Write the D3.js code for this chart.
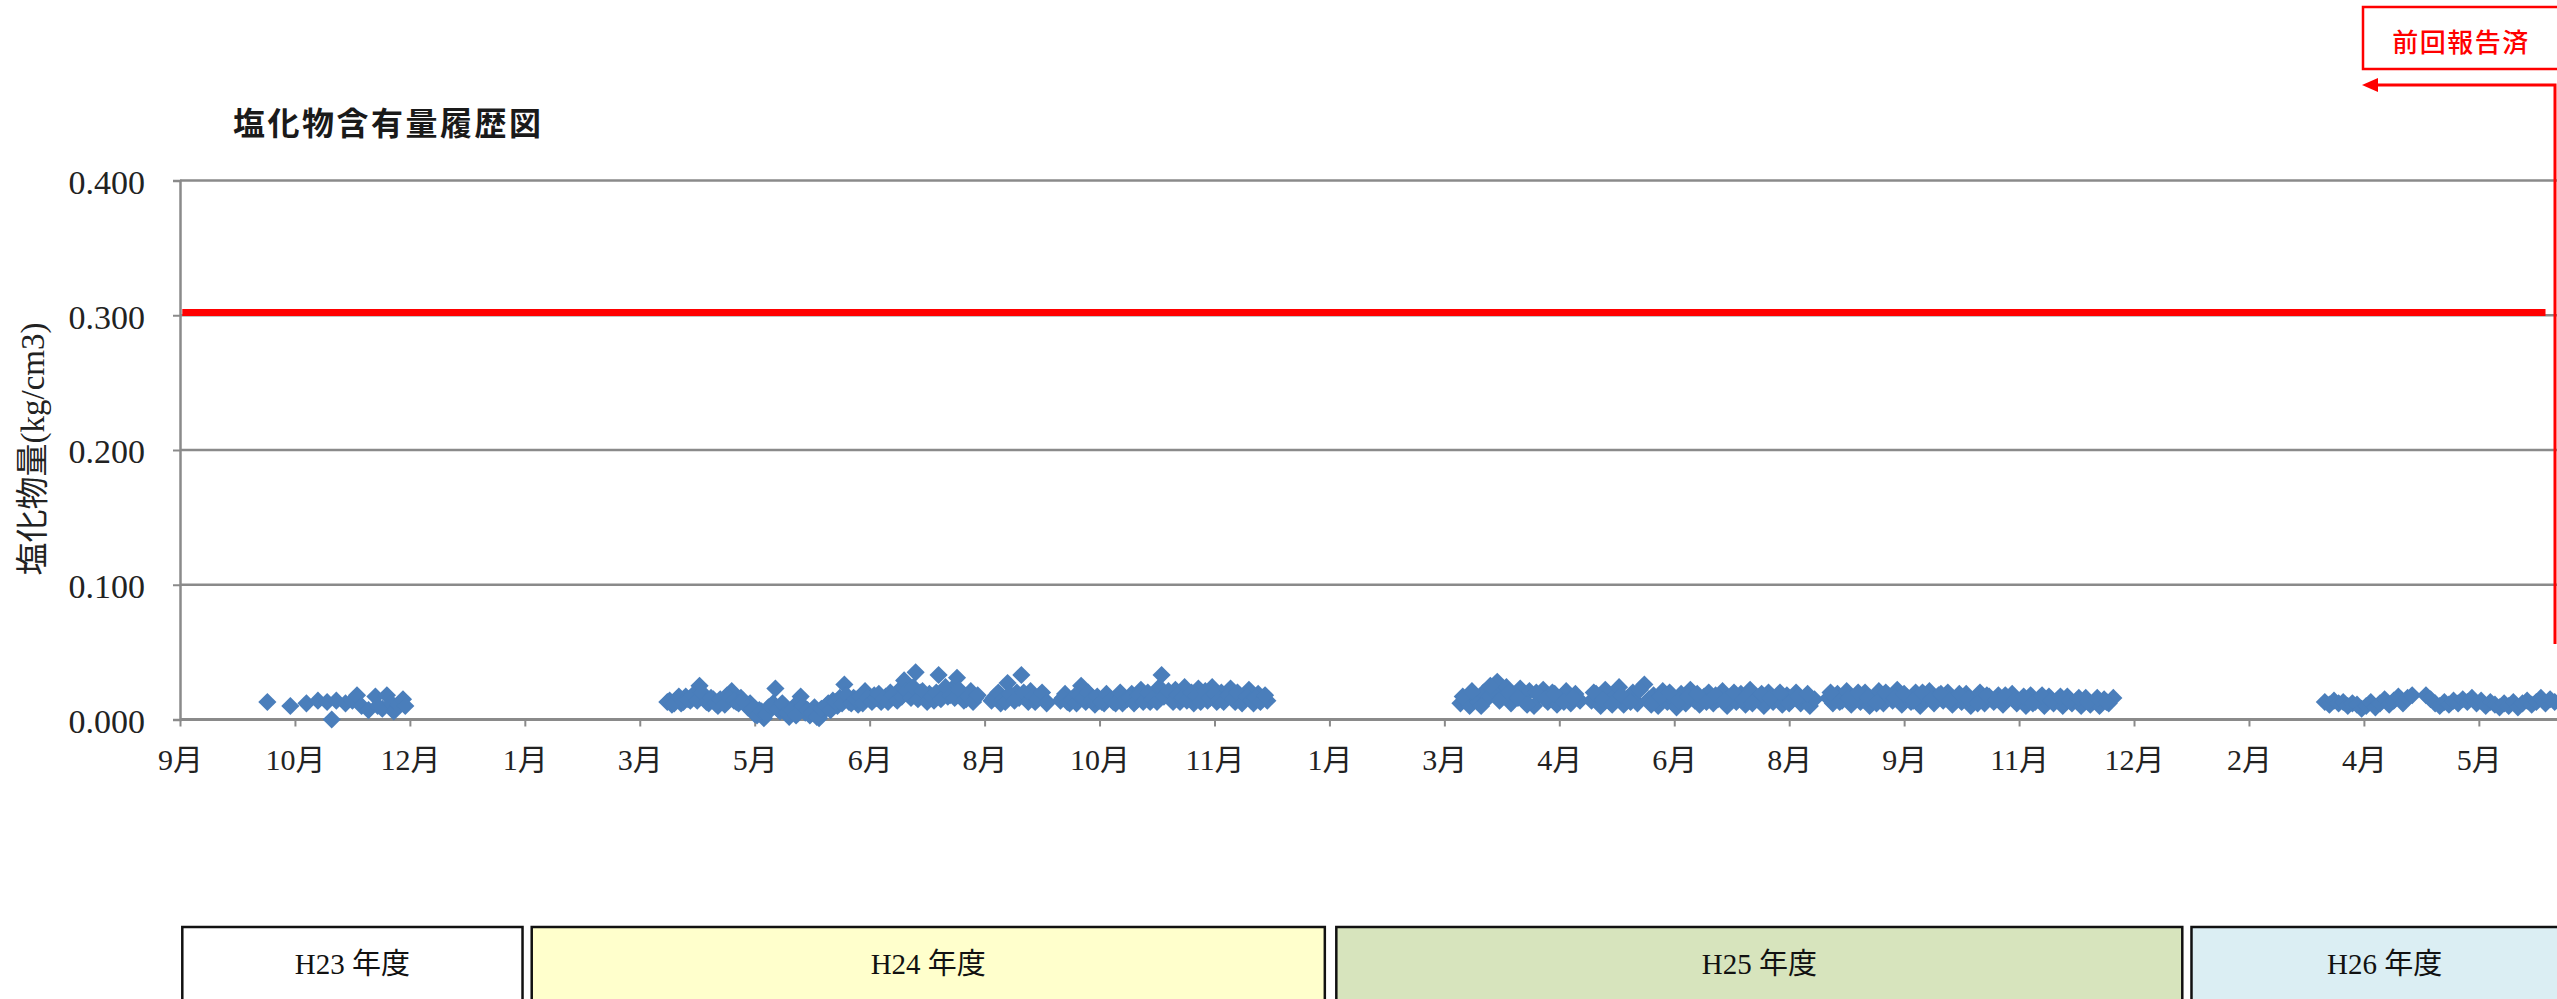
<!DOCTYPE html>
<html>
<head>
<meta charset="utf-8">
<script src="https://cdn.jsdelivr.net/npm/d3@7"></script>
<style>
  body { margin: 0; background: #fff; }
  svg { display: block; }
</style>
</head>
<body>
<svg id="chart" width="2557" height="999"></svg>
<script>
// chloride content readings (kg/cm3), one list per fiscal year
var h23 = [
  ["2011-10-09",0.013],["2011-10-19",0.010],["2011-10-26",0.012],["2011-10-31",0.014],["2011-11-04",0.013],
  ["2011-11-06",0.000],["2011-11-08",0.014],["2011-11-12",0.012],["2011-11-15",0.014],["2011-11-17",0.018],
  ["2011-11-19",0.010],["2011-11-22",0.007],["2011-11-25",0.017],["2011-11-26",0.010],["2011-11-28",0.008],
  ["2011-11-30",0.018],["2011-12-02",0.012],["2011-12-03",0.006],["2011-12-05",0.011],["2011-12-07",0.015],
  ["2011-12-08",0.010]
];
var h24 = [
  ["2012-03-31",0.013],["2012-04-02",0.011],["2012-04-04",0.015],["2012-04-06",0.012],["2012-04-08",0.017],
  ["2012-04-10",0.014],["2012-04-12",0.019],["2012-04-14",0.025],["2012-04-16",0.016],["2012-04-18",0.012],
  ["2012-04-20",0.015],["2012-04-22",0.010],["2012-04-24",0.013],["2012-04-26",0.018],["2012-04-28",0.021],
  ["2012-04-30",0.013],["2012-05-02",0.016],["2012-05-04",0.011],["2012-05-06",0.012],["2012-05-08",0.004],
  ["2012-05-10",0.007],["2012-05-12",0.001],["2012-05-14",0.009],["2012-05-16",0.012],["2012-05-17",0.023],
  ["2012-05-19",0.006],["2012-05-21",0.010],["2012-05-23",0.002],["2012-05-25",0.008],["2012-05-27",0.013],
  ["2012-05-28",0.017],["2012-05-30",0.005],["2012-06-01",0.003],["2012-06-03",0.009],["2012-06-05",0.001],
  ["2012-06-07",0.006],["2012-06-09",0.012],["2012-06-11",0.014],["2012-06-13",0.010],["2012-06-16",0.026],
  ["2012-06-18",0.013],["2012-06-20",0.016],["2012-06-22",0.011],["2012-06-25",0.021],["2012-06-27",0.015],
  ["2012-06-29",0.018],["2012-07-02",0.013],["2012-07-04",0.017],["2012-07-06",0.020],["2012-07-08",0.016],
  ["2012-07-10",0.022],["2012-07-12",0.029],["2012-07-14",0.018],["2012-07-17",0.035],["2012-07-19",0.020],
  ["2012-07-21",0.016],["2012-07-23",0.019],["2012-07-25",0.014],["2012-07-27",0.033],["2012-07-29",0.021],
  ["2012-07-31",0.017],["2012-08-02",0.023],["2012-08-04",0.031],["2012-08-06",0.019],["2012-08-08",0.015],
  ["2012-08-10",0.021],["2012-08-12",0.016],["2012-08-19",0.014],["2012-08-21",0.018],["2012-08-23",0.012],
  ["2012-08-26",0.027],["2012-08-28",0.017],["2012-08-30",0.020],["2012-09-01",0.033],["2012-09-03",0.016],
  ["2012-09-05",0.021],["2012-09-07",0.013],["2012-09-09",0.018],["2012-09-11",0.015],["2012-09-18",0.014],
  ["2012-09-20",0.019],["2012-09-22",0.012],["2012-09-24",0.017],["2012-09-27",0.025],["2012-09-29",0.013],
  ["2012-10-01",0.018],["2012-10-03",0.011],["2012-10-05",0.014],["2012-10-07",0.012],["2012-10-09",0.016],
  ["2012-10-11",0.013],["2012-10-13",0.017],["2012-10-15",0.012],["2012-10-17",0.015],["2012-10-19",0.019],
  ["2012-10-21",0.014],["2012-10-23",0.022],["2012-10-25",0.016],["2012-10-27",0.013],["2012-10-29",0.018],
  ["2012-10-31",0.024],["2012-11-01",0.033],["2012-11-03",0.019],["2012-11-05",0.015],["2012-11-07",0.022],
  ["2012-11-09",0.013],["2012-11-11",0.024],["2012-11-13",0.016],["2012-11-15",0.012],["2012-11-17",0.023],
  ["2012-11-19",0.017],["2012-11-21",0.014],["2012-11-23",0.024],["2012-11-25",0.013],["2012-11-27",0.020],
  ["2012-11-29",0.016],["2012-12-01",0.023],["2012-12-03",0.013],["2012-12-05",0.018],["2012-12-07",0.015],
  ["2012-12-09",0.022],["2012-12-11",0.012],["2012-12-13",0.019],["2012-12-15",0.016],["2012-12-17",0.014]
];
// second set of readings taken in between
var h24b = [
  ["2012-04-01",0.014],["2012-04-03",0.012],["2012-04-05",0.017],["2012-04-07",0.013],["2012-04-09",0.015],
  ["2012-04-11",0.018],["2012-04-13",0.014],["2012-04-15",0.020],["2012-04-17",0.013],["2012-04-19",0.016],
  ["2012-04-21",0.012],["2012-04-23",0.015],["2012-04-25",0.011],["2012-04-27",0.016],["2012-04-29",0.014],
  ["2012-05-01",0.012],["2012-05-03",0.014],["2012-05-05",0.009],["2012-05-07",0.008],["2012-05-09",0.003],
  ["2012-05-11",0.006],["2012-05-13",0.004],["2012-05-15",0.010],["2012-05-18",0.008],["2012-05-20",0.012],
  ["2012-05-22",0.005],["2012-05-24",0.007],["2012-05-26",0.003],["2012-05-29",0.010],["2012-05-31",0.007],
  ["2012-06-02",0.005],["2012-06-04",0.002],["2012-06-06",0.008],["2012-06-08",0.010],["2012-06-10",0.007],
  ["2012-06-12",0.013],["2012-06-14",0.016],["2012-06-15",0.012],["2012-06-17",0.018],["2012-06-19",0.012],
  ["2012-06-21",0.015],["2012-06-23",0.017],["2012-06-24",0.012],["2012-06-26",0.016],["2012-06-28",0.013],
  ["2012-06-30",0.016],["2012-07-01",0.019],["2012-07-03",0.015],["2012-07-05",0.013],["2012-07-07",0.018],
  ["2012-07-09",0.014],["2012-07-11",0.017],["2012-07-13",0.021],["2012-07-15",0.016],["2012-07-16",0.024],
  ["2012-07-18",0.015],["2012-07-20",0.021],["2012-07-22",0.013],["2012-07-24",0.017],["2012-07-26",0.020],
  ["2012-07-28",0.015],["2012-07-30",0.024],["2012-08-01",0.018],["2012-08-03",0.016],["2012-08-05",0.022],
  ["2012-08-07",0.014],["2012-08-09",0.017],["2012-08-11",0.013],["2012-08-13",0.018],["2012-08-20",0.016],
  ["2012-08-22",0.020],["2012-08-24",0.015],["2012-08-25",0.013],["2012-08-27",0.019],["2012-08-29",0.014],
  ["2012-08-31",0.016],["2012-09-02",0.020],["2012-09-04",0.013],["2012-09-06",0.017],["2012-09-08",0.015],
  ["2012-09-10",0.020],["2012-09-12",0.012],["2012-09-19",0.016],["2012-09-21",0.013],["2012-09-23",0.015],
  ["2012-09-25",0.012],["2012-09-26",0.018],["2012-09-28",0.016],["2012-09-30",0.020],["2012-10-02",0.015],
  ["2012-10-04",0.017],["2012-10-06",0.013],["2012-10-08",0.019],["2012-10-10",0.015],["2012-10-12",0.012],
  ["2012-10-14",0.020],["2012-10-16",0.014],["2012-10-18",0.016],["2012-10-20",0.012],["2012-10-22",0.018],
  ["2012-10-24",0.013],["2012-10-26",0.020],["2012-10-28",0.015],["2012-10-30",0.013],["2012-11-02",0.017],
  ["2012-11-04",0.021],["2012-11-06",0.013],["2012-11-08",0.018],["2012-11-10",0.016],["2012-11-12",0.014],
  ["2012-11-14",0.020],["2012-11-16",0.018],["2012-11-18",0.013],["2012-11-20",0.021],["2012-11-22",0.016],
  ["2012-11-24",0.019],["2012-11-26",0.015],["2012-11-28",0.013],["2012-11-30",0.018],["2012-12-02",0.015],
  ["2012-12-04",0.020],["2012-12-06",0.012],["2012-12-08",0.017],["2012-12-10",0.014],["2012-12-12",0.016],
  ["2012-12-14",0.013],["2012-12-16",0.018]
];
var h25 = [
  ["2013-03-11",0.012],["2013-03-13",0.015],["2013-03-15",0.010],["2013-03-17",0.018],["2013-03-19",0.013],
  ["2013-03-21",0.020],["2013-03-23",0.016],["2013-03-25",0.022],["2013-03-27",0.028],["2013-03-29",0.017],
  ["2013-03-31",0.024],["2013-04-02",0.012],["2013-04-04",0.019],["2013-04-06",0.023],["2013-04-08",0.014],
  ["2013-04-10",0.021],["2013-04-12",0.010],["2013-04-14",0.018],["2013-04-16",0.022],["2013-04-18",0.013],
  ["2013-04-20",0.020],["2013-04-22",0.011],["2013-04-24",0.017],["2013-04-26",0.021],["2013-04-28",0.012],
  ["2013-04-30",0.019],["2013-05-02",0.014],
  ["2013-05-07",0.014],["2013-05-09",0.019],["2013-05-11",0.010],["2013-05-13",0.022],["2013-05-15",0.013],
  ["2013-05-17",0.017],["2013-05-19",0.024],["2013-05-21",0.011],["2013-05-23",0.016],["2013-05-25",0.020],
  ["2013-05-27",0.012],["2013-05-30",0.026],["2013-06-01",0.015],["2013-06-03",0.018],["2013-06-05",0.010],
  ["2013-06-07",0.021],["2013-06-09",0.013],["2013-06-11",0.016],["2013-06-13",0.009],["2013-06-15",0.019],
  ["2013-06-17",0.012],["2013-06-19",0.022],["2013-06-21",0.014],["2013-06-23",0.011],["2013-06-25",0.017],
  ["2013-06-27",0.020],["2013-06-29",0.012],["2013-07-01",0.015],["2013-07-03",0.021],["2013-07-05",0.010],
  ["2013-07-07",0.016],["2013-07-09",0.013],["2013-07-11",0.019],["2013-07-13",0.011],["2013-07-15",0.022],
  ["2013-07-17",0.014],["2013-07-19",0.017],["2013-07-21",0.010],["2013-07-23",0.020],["2013-07-25",0.013],
  ["2013-07-27",0.016],["2013-07-29",0.011],["2013-07-31",0.018],["2013-08-02",0.014],["2013-08-04",0.020],
  ["2013-08-06",0.012],["2013-08-08",0.016],["2013-08-10",0.010],["2013-08-12",0.015],
  ["2013-08-18",0.016],["2013-08-20",0.012],["2013-08-22",0.019],["2013-08-24",0.014],["2013-08-26",0.021],
  ["2013-08-28",0.011],["2013-08-30",0.017],["2013-09-01",0.013],["2013-09-03",0.020],["2013-09-05",0.010],
  ["2013-09-07",0.016],["2013-09-09",0.021],["2013-09-11",0.012],["2013-09-13",0.018],["2013-09-15",0.014],
  ["2013-09-17",0.022],["2013-09-19",0.011],["2013-09-21",0.017],["2013-09-23",0.013],["2013-09-25",0.020],
  ["2013-09-27",0.010],["2013-09-29",0.016],["2013-10-01",0.021],["2013-10-03",0.012],["2013-10-05",0.018],
  ["2013-10-07",0.014],["2013-10-09",0.020],["2013-10-11",0.011],["2013-10-13",0.016],["2013-10-15",0.013],
  ["2013-10-17",0.019],["2013-10-19",0.010],["2013-10-21",0.015],["2013-10-23",0.020],["2013-10-25",0.012],
  ["2013-10-27",0.017],["2013-10-29",0.013],["2013-10-31",0.018],["2013-11-02",0.011],["2013-11-04",0.016],
  ["2013-11-06",0.019],["2013-11-08",0.012],["2013-11-10",0.015],["2013-11-12",0.010],["2013-11-14",0.018],
  ["2013-11-16",0.013],["2013-11-18",0.016],["2013-11-20",0.010],["2013-11-22",0.017],["2013-11-24",0.012],
  ["2013-11-26",0.015],["2013-11-28",0.010],["2013-11-30",0.017],["2013-12-02",0.012],["2013-12-04",0.014],
  ["2013-12-06",0.010],["2013-12-08",0.016],["2013-12-10",0.011],["2013-12-12",0.014],["2013-12-14",0.010],
  ["2013-12-16",0.015],["2013-12-18",0.012],["2013-12-20",0.016]
];
var h25b = [
  ["2013-03-12",0.017],["2013-03-16",0.021],["2013-03-20",0.010],["2013-03-24",0.025],["2013-03-28",0.014],
  ["2013-04-01",0.020],["2013-04-05",0.016],["2013-04-09",0.011],["2013-04-13",0.020],["2013-04-17",0.015],
  ["2013-04-21",0.019],["2013-04-25",0.013],["2013-04-29",0.016],["2013-05-08",0.020],["2013-05-12",0.015],
  ["2013-05-16",0.011],["2013-05-20",0.018],["2013-05-24",0.013],["2013-05-28",0.022],["2013-06-02",0.011],
  ["2013-06-06",0.017],["2013-06-10",0.020],["2013-06-14",0.014],["2013-06-18",0.017],["2013-06-22",0.019],
  ["2013-06-26",0.013],["2013-06-30",0.018],["2013-07-04",0.014],["2013-07-08",0.020],["2013-07-12",0.015],
  ["2013-07-16",0.012],["2013-07-20",0.019],["2013-07-24",0.016],["2013-07-28",0.020],["2013-08-01",0.012],
  ["2013-08-05",0.017],["2013-08-09",0.019],["2013-08-19",0.020],["2013-08-23",0.013],["2013-08-27",0.016],
  ["2013-08-31",0.020],["2013-09-04",0.016],["2013-09-08",0.012],["2013-09-12",0.020],["2013-09-16",0.016],
  ["2013-09-20",0.019],["2013-09-24",0.014],["2013-09-28",0.020],["2013-10-02",0.015],["2013-10-06",0.019],
  ["2013-10-10",0.014],["2013-10-14",0.019],["2013-10-18",0.015],["2013-10-22",0.012],["2013-10-26",0.018],
  ["2013-10-30",0.015],["2013-11-03",0.018],["2013-11-07",0.014],["2013-11-11",0.017],["2013-11-15",0.012],
  ["2013-11-19",0.018],["2013-11-23",0.014],["2013-11-27",0.017],["2013-12-01",0.014],["2013-12-05",0.016],
  ["2013-12-09",0.013],["2013-12-13",0.016],["2013-12-17",0.013]
];
var h26 = [
  ["2014-03-22",0.013],["2014-03-24",0.011],["2014-03-26",0.014],["2014-03-28",0.012],["2014-03-30",0.013],
  ["2014-04-01",0.010],["2014-04-03",0.012],["2014-04-05",0.011],["2014-04-07",0.008],["2014-04-09",0.010],
  ["2014-04-11",0.013],["2014-04-13",0.009],["2014-04-15",0.012],["2014-04-17",0.015],["2014-04-19",0.011],
  ["2014-04-21",0.014],["2014-04-23",0.017],["2014-04-25",0.012],["2014-04-27",0.016],["2014-04-29",0.018],
  ["2014-05-05",0.018],["2014-05-07",0.015],["2014-05-09",0.012],["2014-05-11",0.010],["2014-05-13",0.013],
  ["2014-05-15",0.011],["2014-05-17",0.014],["2014-05-19",0.012],["2014-05-21",0.015],["2014-05-23",0.013],
  ["2014-05-25",0.016],["2014-05-27",0.012],["2014-05-29",0.014],["2014-05-31",0.010],["2014-06-02",0.013],
  ["2014-06-04",0.011],["2014-06-06",0.009],["2014-06-08",0.012],["2014-06-10",0.010],["2014-06-12",0.013],
  ["2014-06-14",0.009],["2014-06-16",0.012],["2014-06-18",0.014],["2014-06-20",0.011],["2014-06-22",0.013],
  ["2014-06-24",0.016],["2014-06-26",0.012],["2014-06-28",0.015],["2014-06-30",0.013]
];

// control limit line
var limitLine = [["2011-09-02",0.302],["2014-06-26",0.302]];

// axes
var yTicks = [0, 0.1, 0.2, 0.3, 0.4];
var xTickDates = [
  "2011-09-01","2011-10-21","2011-12-10","2012-01-29","2012-03-19","2012-05-08","2012-06-27",
  "2012-08-16","2012-10-05","2012-11-24","2013-01-13","2013-03-04","2013-04-23","2013-06-12",
  "2013-08-01","2013-09-20","2013-11-09","2013-12-29","2014-02-17","2014-04-08","2014-05-28"
];

// fiscal year bands under the chart
var periodLabels = ["H23 年度", "H24 年度", "H25 年度", "H26 年度"];
var periodFrom = ["2011-09-02", "2012-02-01", "2013-01-16", "2014-01-23"];
var periodTo = ["2012-01-28", "2013-01-11", "2014-01-19", "2014-07-10"];

var title = "塩化物含有量履歴図";
var yTitle = "塩化物量(kg/cm3)";
var noteText = "前回報告済";

var periodFills = ["#ffffff", "#ffffcc", "#d7e4bd", "#dbeef3"];
var serif = "'Liberation Serif', 'Noto Sans CJK JP', serif";
var gothic = "'Noto Sans CJK JP', sans-serif";

var parse = d3.timeParse("%Y-%m-%d");
var svg = d3.select("#chart");

var x = d3.scaleTime()
  .domain([parse("2011-09-01"), parse("2014-07-01")])
  .range([180, 2557]);
var y = d3.scaleLinear().domain([0, 0.4]).range([719.5, 180.5]);

// gridlines
svg.append("g")
  .selectAll("line")
  .data(yTicks.slice(1))
  .join("line")
  .attr("x1", 180).attr("x2", 2557)
  .attr("y1", d => y(d)).attr("y2", d => y(d))
  .attr("stroke", "#8a8a8a").attr("stroke-width", 2.5);

// y axis
var yAxis = svg.append("g")
  .attr("transform", "translate(180,0)")
  .call(d3.axisLeft(y).tickValues(yTicks).tickFormat(d3.format(".3f")).tickSize(7).tickPadding(28));
yAxis.select(".domain").attr("stroke", "#8a8a8a").attr("stroke-width", 2.5);
yAxis.selectAll(".tick line").attr("stroke", "#8a8a8a").attr("stroke-width", 2);
yAxis.selectAll("text")
  .attr("font-family", serif).attr("font-size", 34).attr("fill", "#222")
  .attr("dy", "0.38em");

// x axis
var xAxis = svg.append("g")
  .attr("transform", "translate(0," + y(0) + ")")
  .call(d3.axisBottom(x)
    .tickValues(xTickDates.map(parse))
    .tickFormat(d => (d.getMonth() + 1) + "月")
    .tickSize(7).tickPadding(22));
xAxis.select(".domain").attr("stroke", "#8a8a8a").attr("stroke-width", 3).attr("d", "M180,0H2557");
xAxis.selectAll(".tick line").attr("stroke", "#8a8a8a").attr("stroke-width", 2);
xAxis.selectAll("text")
  .attr("font-family", serif).attr("font-size", 30).attr("fill", "#222");

// limit line
svg.append("path")
  .datum(limitLine)
  .attr("fill", "none")
  .attr("stroke", "#ff0000")
  .attr("stroke-width", 7)
  .attr("d", d3.line().x(d => x(parse(d[0]))).y(d => y(d[1])));

// readings
var allPoints = h23.concat(h24, h24b, h25, h25b, h26);
var diamond = d3.symbol().type(d3.symbolSquare).size(165)();
svg.append("g")
  .selectAll("path")
  .data(allPoints)
  .join("path")
  .attr("d", diamond)
  .attr("transform", d => "translate(" + x(parse(d[0])) + "," + y(d[1]) + ") rotate(45)")
  .attr("fill", "#4a7ebb");

// titles
svg.append("text")
  .attr("x", 233).attr("y", 135)
  .attr("font-family", gothic).attr("font-weight", "bold")
  .attr("font-size", 32).attr("letter-spacing", 2.5)
  .attr("fill", "#1a1a1a")
  .text(title);

svg.append("text")
  .attr("transform", "translate(44,449) rotate(-90)")
  .attr("text-anchor", "middle")
  .attr("font-family", serif).attr("font-size", 33).attr("fill", "#222")
  .text(yTitle);

// fiscal year bands
var band = svg.append("g")
  .selectAll("g")
  .data(periodLabels)
  .join("g");
band.append("rect")
  .attr("x", (d, i) => x(parse(periodFrom[i])))
  .attr("y", 927)
  .attr("width", (d, i) => x(parse(periodTo[i])) - x(parse(periodFrom[i])))
  .attr("height", 110)
  .attr("fill", (d, i) => periodFills[i])
  .attr("stroke", "#111").attr("stroke-width", 2.5);
band.append("text")
  .attr("x", (d, i) => (x(parse(periodFrom[i])) + x(parse(periodTo[i]))) / 2)
  .attr("y", 974)
  .attr("text-anchor", "middle")
  .attr("font-family", serif).attr("font-size", 29).attr("fill", "#111")
  .text(d => d);

// "previously reported" note with arrow
var note = svg.append("g");
note.append("rect")
  .attr("x", 2363).attr("y", 7).attr("width", 210).attr("height", 62)
  .attr("fill", "#fff").attr("stroke", "#ff0000").attr("stroke-width", 2.5);
note.append("text")
  .attr("x", 2461).attr("y", 52)
  .attr("text-anchor", "middle")
  .attr("font-family", gothic).attr("font-size", 26).attr("font-weight", 500)
  .attr("letter-spacing", 1.5)
  .attr("fill", "#ff0000")
  .text(noteText);
note.append("path")
  .attr("d", "M2555,644V85H2376")
  .attr("fill", "none").attr("stroke", "#ff0000").attr("stroke-width", 3);
note.append("path")
  .attr("d", "M2362,85L2378,78L2378,92Z")
  .attr("fill", "#ff0000");
</script>
</body>
</html>
